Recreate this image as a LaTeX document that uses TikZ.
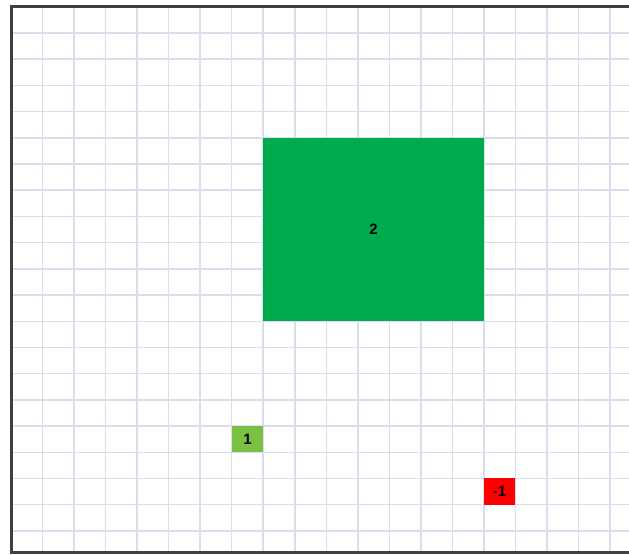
\documentclass[tikz,border=0pt]{standalone}
\usepackage{fontspec}
\setmainfont{Liberation Sans}
\usepackage{tikz}
\definecolor{gridlav}{HTML}{DADDEC}
\definecolor{framegray}{HTML}{3F3F3F}
\definecolor{bigGreen}{HTML}{00AB4E}
\definecolor{smallGreen}{HTML}{7AC143}
\definecolor{valRed}{HTML}{FF0000}

\begin{document}
\begin{tikzpicture}[x=31.5pt,y=-26.2pt,
  cell/.style={inner sep=0pt,font=\fontsize{15}{17}\selectfont\bfseries}]
  \useasboundingbox (-0.356,-0.26) rectangle (19.61,20.885);
  % grid
  \foreach \i in {1,...,19}
    \draw[gridlav,line width=1.5pt] (\i,0) -- (\i,20.81);
  \foreach \j in {1,...,20}
    \draw[gridlav,line width=1.5pt] (0,\j) -- (19.61,\j);
  % frame
  \draw[framegray,line width=3pt] (19.61,0) -- (0,0) -- (0,20.81) -- (19.61,20.81);
  % values
  \node[cell,fill=bigGreen,minimum width=220.5pt,minimum height=183.4pt] (two) at (11.5,8.5) {2};
  \node[cell,fill=smallGreen,minimum width=31.5pt,minimum height=26.2pt] (one) at (7.5,16.5) {1};
  \node[cell,fill=valRed,minimum width=31.5pt,minimum height=26.2pt] (minusone) at (15.5,18.5) {-1};
\end{tikzpicture}
\end{document}
